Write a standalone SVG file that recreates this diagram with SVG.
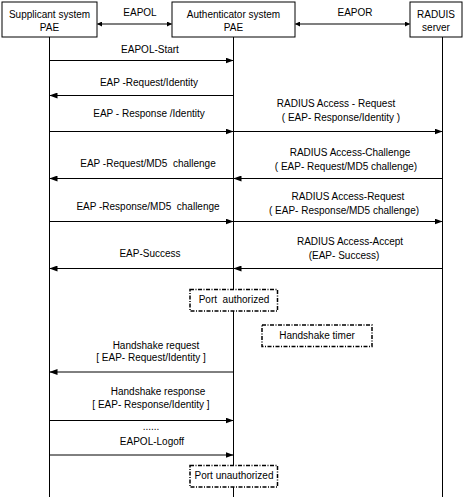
<svg xmlns="http://www.w3.org/2000/svg" width="470" height="501" viewBox="0 0 470 501">
<defs>
<style>
text{font-family:"Liberation Sans",Arial,sans-serif;font-size:10px;fill:#000;text-anchor:middle}
.box{fill:#fff;stroke:#000;stroke-width:1}
.life{stroke:#000;stroke-width:1;fill:none}
.msg{stroke:#000;stroke-width:1;fill:none;marker-end:url(#ah)}
.dbl{stroke:#555;stroke-width:1.5;fill:none;marker-start:url(#sm);marker-end:url(#sm)}
.dash{fill:#fff;stroke:#000;stroke-width:1.5;stroke-dasharray:4 1.5 1 1.5}
</style>
<marker id="ah" viewBox="0 0 8 6" refX="8" refY="3" markerWidth="8" markerHeight="6" orient="auto" markerUnits="userSpaceOnUse">
<path d="M0,0 L8,3 L0,6 z" fill="#000"/>
</marker>
<marker id="sm" viewBox="0 0 6 6" refX="6" refY="3" markerWidth="5" markerHeight="5" orient="auto-start-reverse" markerUnits="userSpaceOnUse">
<path d="M0,0 L6,3 L0,6 z" fill="#000"/>
</marker>
</defs>
<g id="lifelines">
<line class="life" x1="49.5" y1="37" x2="49.5" y2="497"/>
<line class="life" x1="233.5" y1="37" x2="233.5" y2="497"/>
<line class="life" x1="442.5" y1="37" x2="442.5" y2="497"/>
</g>
<g id="supplicant">
<rect class="box" x="2" y="2" width="95" height="35"/>
<text x="49.5" y="18">Supplicant system</text>
<text x="49.5" y="31">PAE</text>
</g>
<g id="authenticator">
<rect class="box" x="172" y="2" width="123" height="35"/>
<text x="233.5" y="18">Authenticator system</text>
<text x="233.5" y="31">PAE</text>
</g>
<g id="radius">
<rect class="box" x="410" y="2" width="52" height="35"/>
<text x="436" y="18">RADUIS</text>
<text x="436" y="31">server</text>
</g>
<g id="connectors">
<line class="dbl" x1="97" y1="24" x2="172" y2="24"/>
<text x="140" y="16">EAPOL</text>
<line class="dbl" x1="295" y1="24" x2="410" y2="24"/>
<text x="355" y="16">EAPOR</text>

<line class="msg" x1="49.5" y1="60.5" x2="233.5" y2="60.5"/>
<text x="150" y="53">EAPOL-Start</text>

<line class="msg" x1="233.5" y1="95.5" x2="49.5" y2="95.5"/>
<text x="149" y="86">EAP -Request/Identity</text>

<line class="msg" x1="49.5" y1="131.5" x2="233.5" y2="131.5"/>
<text x="149" y="117">EAP - Response /Identity</text>
<line class="msg" x1="233.5" y1="131.5" x2="442.5" y2="131.5"/>
<text x="336" y="107">RADIUS Access - Request</text>
<text x="341" y="121">( EAP- Response/Identity )</text>

<line class="msg" x1="233.5" y1="178.5" x2="49.5" y2="178.5"/>
<text x="148" y="167" xml:space="preserve">EAP -Request/MD5  challenge</text>
<line class="msg" x1="442.5" y1="178.5" x2="233.5" y2="178.5"/>
<text x="350" y="156">RADIUS Access-Challenge</text>
<text x="346" y="169.5">( EAP- Request/MD5 challenge)</text>

<line class="msg" x1="49.5" y1="221.5" x2="233.5" y2="221.5"/>
<text x="148" y="210" xml:space="preserve">EAP -Response/MD5  challenge</text>
<line class="msg" x1="233.5" y1="221.5" x2="442.5" y2="221.5"/>
<text x="348" y="200">RADIUS Access-Request</text>
<text x="344" y="213.5">( EAP- Response/MD5 challenge)</text>

<line class="msg" x1="233.5" y1="268.5" x2="49.5" y2="268.5"/>
<text x="150" y="257">EAP-Success</text>
<line class="msg" x1="442.5" y1="268.5" x2="233.5" y2="268.5"/>
<text x="350" y="245">RADIUS Access-Accept</text>
<text x="344" y="258.5">(EAP- Success)</text>

<line class="msg" x1="233.5" y1="372" x2="49.5" y2="372"/>
<text x="156" y="349">Handshake request</text>
<text x="151" y="361">[ EAP- Request/Identity ]</text>

<line class="msg" x1="49.5" y1="420.5" x2="233.5" y2="420.5"/>
<text x="158" y="395">Handshake response</text>
<text x="151" y="408">[ EAP- Response/Identity ]</text>

<text x="151" y="430">......</text>

<line class="msg" x1="49.5" y1="455" x2="233.5" y2="455"/>
<text x="152" y="445">EAPOL-Logoff</text>
</g>
<g id="port-authorized">
<rect class="dash" x="190" y="289.5" width="87.5" height="21.5"/>
<text x="234" y="303" xml:space="preserve">Port  authorized</text>
</g>
<g id="handshake-timer">
<rect class="dash" x="262" y="325" width="110" height="21.5"/>
<text x="317" y="339">Handshake timer</text>
</g>
<g id="port-unauthorized">
<rect class="dash" x="190" y="465.5" width="87.5" height="21.5"/>
<text x="234" y="479">Port unauthorized</text>
</g>
</svg>
